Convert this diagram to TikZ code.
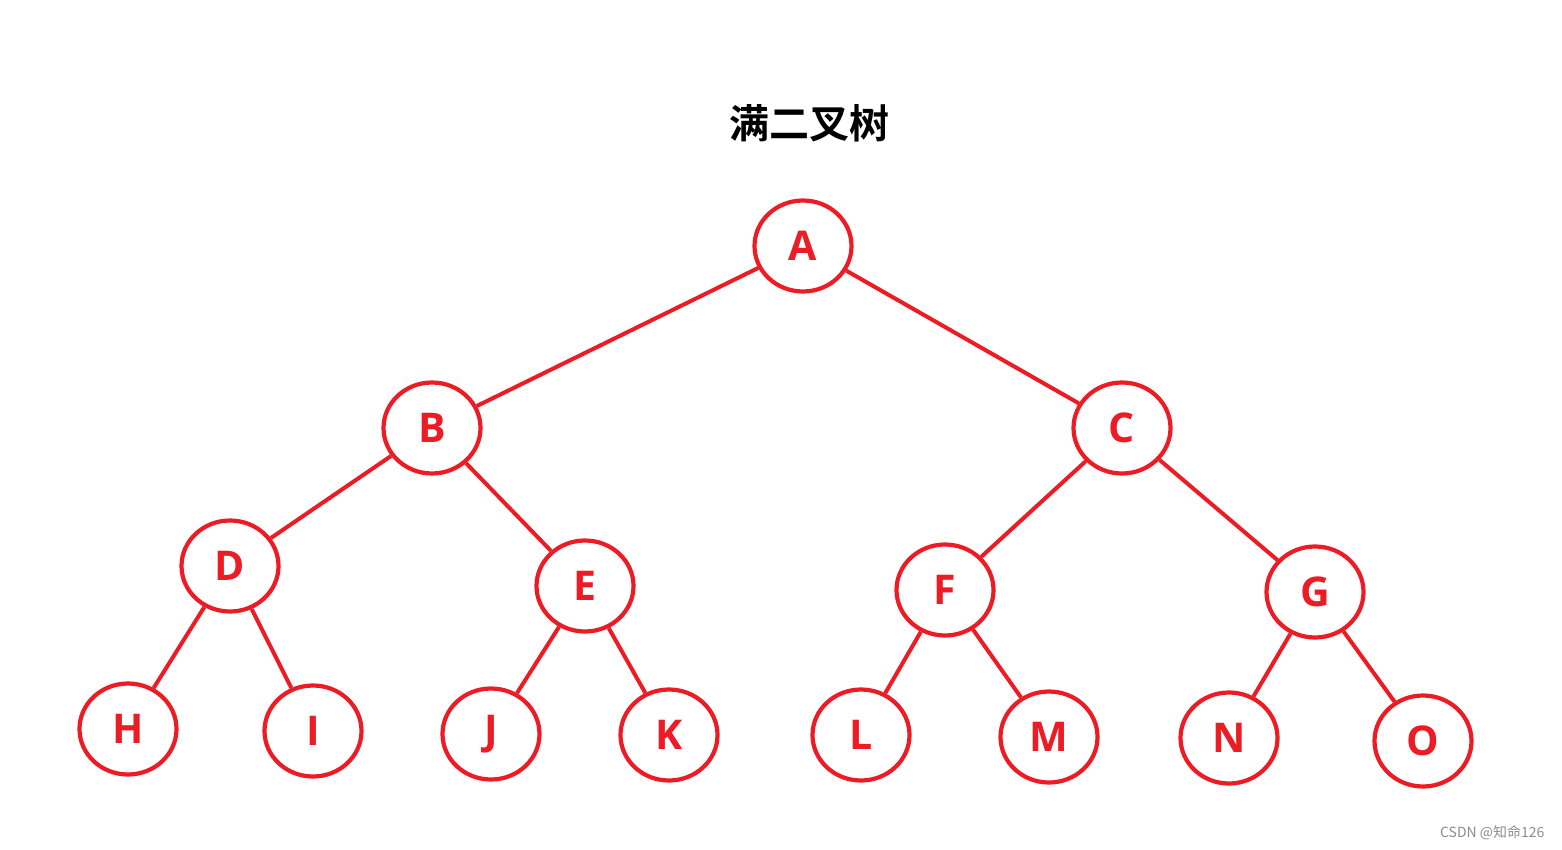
\documentclass[tikz,border=0pt]{standalone}
\usepackage{fontspec}
\setmainfont{Open Sans}[BoldFont={Open Sans Bold}]
\newfontfamily\cjk{Noto Sans CJK SC}[BoldFont={Noto Sans CJK SC Bold}]
\usetikzlibrary{shapes.geometric}
\definecolor{pred}{HTML}{ED1C24}
\begin{document}
\begin{tikzpicture}[x=1pt,y=-1pt,
  tn/.style={ellipse,draw=pred,line width=4.2pt,minimum width=97pt,minimum height=91pt,inner sep=0pt,
    text=pred,font=\bfseries\fontsize{41}{41}\selectfont},
  ed/.style={draw=pred,line width=4pt}]
\useasboundingbox (0,0) rectangle (1562,850);
\node (title) at (809,123) {\cjk\bfseries\fontsize{40}{40}\selectfont 满二叉树};
\node[tn] (A) at (803,246) {A};
\node[tn] (B) at (432,428) {B};
\node[tn] (C) at (1122,428) {C};
\node[tn] (D) at (230,566) {D};
\node[tn] (E) at (585,586) {E};
\node[tn] (F) at (945,590) {F};
\node[tn] (G) at (1315,592) {G};
\node[tn] (H) at (128,729) {H};
\node[tn] (I) at (313,731) {I};
\node[tn] (J) at (491,734) {J};
\node[tn] (K) at (669,735) {K};
\node[tn] (L) at (861,735) {L};
\node[tn] (M) at (1049,737) {M};
\node[tn] (N) at (1229,738) {N};
\node[tn] (O) at (1423,741) {O};
\draw[ed] (A) -- (B);
\draw[ed] (A) -- (C);
\draw[ed] (B) -- (D);
\draw[ed] (B) -- (E);
\draw[ed] (C) -- (F);
\draw[ed] (C) -- (G);
\draw[ed] (D) -- (H);
\draw[ed] (D) -- (I);
\draw[ed] (E) -- (J);
\draw[ed] (E) -- (K);
\draw[ed] (F) -- (L);
\draw[ed] (F) -- (M);
\draw[ed] (G) -- (N);
\draw[ed] (G) -- (O);
\node[anchor=east,text=black!45,font=\cjk\fontsize{14}{14}\selectfont] (wm) at (1548,833) {CSDN @知命126};
\end{tikzpicture}
\end{document}
